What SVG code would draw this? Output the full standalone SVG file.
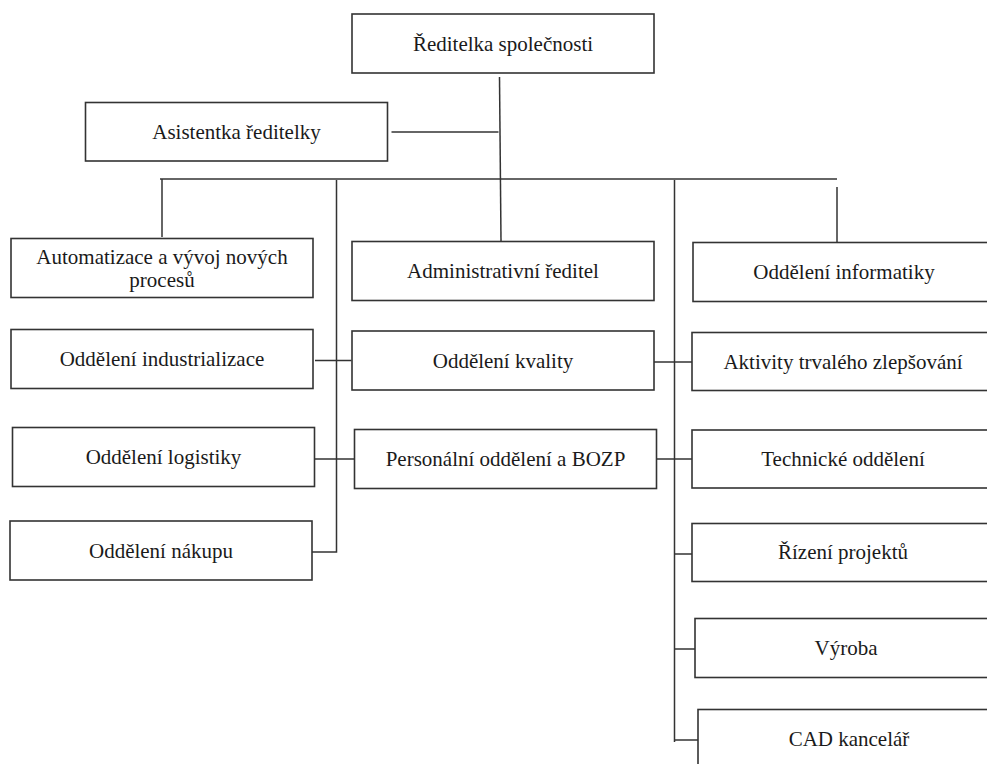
<svg xmlns="http://www.w3.org/2000/svg" width="987" height="764" viewBox="0 0 987 764" font-family="Liberation Serif, Times New Roman, serif">
<style>
.box{fill:#fff;stroke:#333;stroke-width:1.6}
.lbl{font-size:21px;fill:#1a1a1a;text-anchor:middle}
.con{fill:none;stroke:#333;stroke-width:1.5}
</style>
<rect width="987" height="764" fill="#fff"/>
<g id="connectors">
<path class="con" d="M499.5,77 L501,241"/>
<path class="con" d="M391.5,132 H498.5"/>
<path class="con" d="M160,179 H837"/>
<path class="con" d="M162,179 V237"/>
<path class="con" d="M336.5,180 V552 H312"/>
<path class="con" d="M315,360.5 H351.5"/>
<path class="con" d="M315,459 H354"/>
<path class="con" d="M674.5,180 V742"/>
<path class="con" d="M837,187 V242.5"/>
<path class="con" d="M654,362 H692"/>
<path class="con" d="M657,459 H692"/>
<path class="con" d="M674.5,554 H692"/>
<path class="con" d="M674.5,649 H695"/>
<path class="con" d="M674.5,740 H698"/>
</g>
<g id="reditelka"><rect class="box" x="352" y="14" width="302" height="59"/><text class="lbl" x="503" y="51" font-family="Liberation Serif">Ředitelka společnosti</text></g>
<g id="asistentka"><rect class="box" x="85.5" y="102.5" width="302" height="58.5"/><text class="lbl" x="236.5" y="139">Asistentka ředitelky</text></g>
<g id="automatizace"><rect class="box" x="11" y="238.5" width="302" height="59"/><text class="lbl" x="162" y="264">Automatizace a vývoj nových</text><text class="lbl" x="162" y="287">procesů</text></g>
<g id="administrativni"><rect class="box" x="352" y="241.5" width="302" height="59"/><text class="lbl" x="503" y="278">Administrativní ředitel</text></g>
<g id="informatiky"><rect class="box" x="693" y="242.5" width="302" height="59"/><text class="lbl" x="844" y="279">Oddělení informatiky</text></g>
<g id="industrializace"><rect class="box" x="11" y="329.5" width="302" height="59"/><text class="lbl" x="162" y="366">Oddělení industrializace</text></g>
<g id="kvality"><rect class="box" x="352" y="331" width="302" height="59"/><text class="lbl" x="503" y="368">Oddělení kvality</text></g>
<g id="aktivity"><rect class="box" x="692" y="332.5" width="302" height="58"/><text class="lbl" x="843" y="369">Aktivity trvalého zlepšování</text></g>
<g id="logistiky"><rect class="box" x="12.5" y="427.5" width="302" height="59"/><text class="lbl" x="163.5" y="464">Oddělení logistiky</text></g>
<g id="personalni"><rect class="box" x="354.5" y="429.5" width="302" height="59"/><text class="lbl" x="505.5" y="466">Personální oddělení a BOZP</text></g>
<g id="technicke"><rect class="box" x="692" y="430" width="302" height="58"/><text class="lbl" x="843" y="466">Technické oddělení</text></g>
<g id="nakupu"><rect class="box" x="10" y="521" width="302" height="59"/><text class="lbl" x="161" y="558">Oddělení nákupu</text></g>
<g id="rizeni"><rect class="box" x="692" y="523.5" width="302" height="58"/><text class="lbl" x="843" y="559">Řízení projektů</text></g>
<g id="vyroba"><rect class="box" x="695" y="618.5" width="302" height="59"/><text class="lbl" x="846" y="655">Výroba</text></g>
<g id="cad"><rect class="box" x="698" y="709.5" width="302" height="59"/><text class="lbl" x="849" y="746">CAD kancelář</text></g>
</svg>
